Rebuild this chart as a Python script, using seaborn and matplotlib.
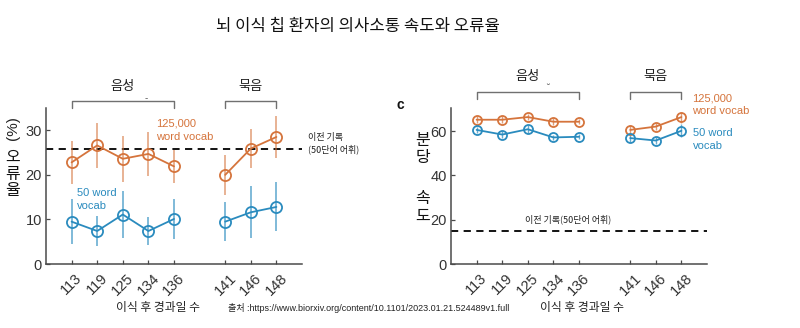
import numpy as np
import pandas as pd
import matplotlib
matplotlib.use("Agg")
import matplotlib.pyplot as plt
import matplotlib.transforms as mtransforms
import seaborn as sns

# ---------------- data ----------------
days = [113, 119, 125, 134, 136, 141, 146, 148]
phase = ["음성", "음성", "음성", "음성", "음성", "묵음", "묵음", "묵음"]

error_125k = [22.8, 26.6, 23.6, 24.7, 21.9, 20.0, 25.9, 28.5]
error_125k_ci = [4.8, 5.1, 5.2, 4.9, 3.7, 4.5, 4.4, 4.8]
error_50 = [9.5, 7.4, 11.1, 7.4, 10.1, 9.5, 11.6, 12.8]
error_50_ci = [5.0, 3.4, 5.3, 3.2, 4.5, 4.3, 5.8, 5.5]

speed_125k = [65.2, 65.2, 66.4, 64.3, 64.3, 60.6, 62.1, 66.4]
speed_125k_ci = [1.5, 1.5, 1.5, 1.5, 1.2, 2.0, 1.5, 2.5]
speed_50 = [60.6, 58.5, 60.9, 57.2, 57.5, 56.9, 55.8, 60.2]
speed_50_ci = [1.2, 1.5, 1.8, 1.2, 1.2, 1.8, 1.5, 3.0]

prev_error = 25.7
prev_speed = 15.0

series_labels = ["125,000\nword vocab", "50 word\nvocab"]
title = "뇌 이식 칩 환자의 의사소통 속도와 오류율"
xlabel = "이식 후 경과일 수"
source = "출처 :https://www.biorxiv.org/content/10.1101/2023.01.21.524489v1.full"
prev_label_left = "이전 기록\n(50단어 어휘)"
prev_label_right = "이전 기록(50단어 어휘)"

# ---------------- style ----------------
sns.set_theme(style="ticks")
plt.rcParams["font.family"] = ["Liberation Sans", "Noto Sans CJK KR", "DejaVu Sans"]
KR = ["Noto Sans CJK KR", "DejaVu Sans"]
MIX = ["Liberation Sans", "Noto Sans CJK KR", "DejaVu Sans"]

ORANGE = "#D5743C"
BLUE = "#2A8BBE"
SPINE = "#4a4a4a"
TXT = "#333333"

# x positions: consecutive sessions, with one-slot gap between phases
positions = []
p = 0
for i, ph in enumerate(phase):
    if i > 0 and ph != phase[i - 1]:
        p += 1
    positions.append(p)
    p += 1

df = pd.DataFrame({
    "day": days, "phase": phase, "pos": positions,
    "err125": error_125k, "err125_ci": error_125k_ci,
    "err50": error_50, "err50_ci": error_50_ci,
    "spd125": speed_125k, "spd125_ci": speed_125k_ci,
    "spd50": speed_50, "spd50_ci": speed_50_ci,
})

fig = plt.figure(figsize=(8, 3.28), dpi=100)
axL = fig.add_axes([46 / 800, 64 / 328, 256 / 800, 156 / 328])
axR = fig.add_axes([451 / 800, 64 / 328, 256 / 800, 156 / 328])


def draw_series(ax, col, ci, color, ms, ebalpha, eblw):
    ax.errorbar(df["pos"], df[col], yerr=df[ci], fmt="none",
                ecolor=color, alpha=ebalpha, elinewidth=eblw, capsize=0, zorder=2)
    for ph in ["음성", "묵음"]:
        sub = df[df["phase"] == ph]
        sns.lineplot(data=sub, x="pos", y=col, ax=ax, color=color, lw=1.3,
                     marker="o", markersize=ms, markerfacecolor="none",
                     markeredgecolor=color, markeredgewidth=1.3, zorder=3)


draw_series(axL, "err125", "err125_ci", ORANGE, 8, 0.55, 1.4)
draw_series(axL, "err50", "err50_ci", BLUE, 8, 0.6, 1.4)
draw_series(axR, "spd125", "spd125_ci", ORANGE, 6.5, 0.7, 1.0)
draw_series(axR, "spd50", "spd50_ci", BLUE, 6.5, 0.7, 1.0)

axL.axhline(prev_error, color="black", lw=1.3, ls=(0, (4, 3)), zorder=1)
axR.axhline(prev_speed, color="black", lw=1.3, ls=(0, (4, 3)), zorder=1)

for ax, ylim, yt in [(axL, (0, 35), [0, 10, 20, 30]), (axR, (0, 70.5), [0, 20, 40, 60])]:
    ax.set_xlim(-1, 9)
    ax.set_ylim(*ylim)
    ax.set_yticks(yt)
    ax.set_xticks(df["pos"])
    ax.set_xticklabels([str(d) for d in days], rotation=45, ha="center")
    ax.set_xlabel("")
    ax.set_ylabel("")
    sns.despine(ax=ax)
    for s in ["left", "bottom"]:
        ax.spines[s].set_color(SPINE)
        ax.spines[s].set_linewidth(1.1)
    ax.tick_params(axis="both", direction="in", length=3, width=0.9,
                   color=SPINE, labelcolor=TXT)
    ax.tick_params(axis="y", labelsize=10.5, pad=3)
    ax.tick_params(axis="x", labelsize=10.5, pad=5)


def bracket(ax, x0, x1, ytop, ybot, label, ylab):
    tr = mtransforms.blended_transform_factory(ax.transData, ax.transAxes)
    ax.plot([x0, x0, x1, x1], [ybot, ytop, ytop, ybot], color="#707070",
            lw=1.0, transform=tr, clip_on=False)
    ax.text((x0 + x1) / 2, ylab, label, transform=tr, ha="center", va="center",
            fontsize=9.5, family=KR, color="#222222")


# left brackets
bracket(axL, 0, 4, 1.047, 1.0, "음성", 1.137)
bracket(axL, 6, 8, 1.047, 1.0, "묵음", 1.137)
trL = mtransforms.blended_transform_factory(axL.transData, axL.transAxes)
axL.text(2.9, 1.064, "-", transform=trL, ha="center", va="center", fontsize=7, color="#555")
# right brackets
bracket(axR, 0, 4, 1.10, 1.058, "음성", 1.20)
bracket(axR, 6, 8, 1.10, 1.058, "묵음", 1.20)
trR = mtransforms.blended_transform_factory(axR.transData, axR.transAxes)
axR.text(2.8, 1.128, "˘", transform=trR, ha="center", va="center", fontsize=7, color="#555")

# series labels
axL.text(3.3, 30.0, series_labels[0], color=ORANGE, fontsize=8, ha="left", va="center",
         linespacing=1.35)
axL.text(0.22, 14.4, series_labels[1], color=BLUE, fontsize=8, ha="left", va="center",
         linespacing=1.35)
axR.text(8.43, 71.9, series_labels[0], color=ORANGE, fontsize=8, ha="left", va="center",
         linespacing=1.35, clip_on=False)
axR.text(8.47, 56.2, series_labels[1], color=BLUE, fontsize=8, ha="left", va="center",
         linespacing=1.35, clip_on=False)

# previous-record labels
axL.text(9.22, 27.1, prev_label_left, fontsize=6.5, family=KR, ha="left", va="center",
         color="#222222", linespacing=1.3, clip_on=False)
axR.text(3.58, 20.4, prev_label_right, fontsize=6.5, family=KR, ha="center", va="center",
         color="#222222")

# y labels
fig.text(13 / 800, 1 - 128 / 328, "(%)", rotation=90, ha="center", va="center",
         fontsize=11, color="#222222")
fig.text(13 / 800, 1 - 174 / 328, "오\n류\n율", ha="center", va="center",
         fontsize=11.5, family=KR, color="#111111", linespacing=1.0)
fig.text(423 / 800, 1 - 149 / 328, "분\n당", ha="center", va="center",
         fontsize=11.5, family=KR, color="#111111", linespacing=1.0)
fig.text(423 / 800, 1 - 207.5 / 328, "속\n도", ha="center", va="center",
         fontsize=11.5, family=KR, color="#111111", linespacing=1.0)

fig.text(400 / 800, 1 - 105 / 328, "c", ha="center", va="center", fontsize=10,
         fontweight="bold", color="#111111")

# title and bottom texts
fig.text(358 / 800, 1 - 27 / 328, title, ha="center", va="center", fontsize=12,
         family=KR, color="#111111")
fig.text(158 / 800, 1 - 308 / 328, xlabel, ha="center", va="center", fontsize=8.5,
         family=KR, color="#222222")
fig.text(582 / 800, 1 - 308 / 328, xlabel, ha="center", va="center", fontsize=8.5,
         family=KR, color="#222222")
fig.text(228 / 800, 1 - 308 / 328, source, ha="left", va="center", fontsize=6.5,
         family=MIX, color="#222222")

fig.savefig("out.png", dpi=100, facecolor="white")
